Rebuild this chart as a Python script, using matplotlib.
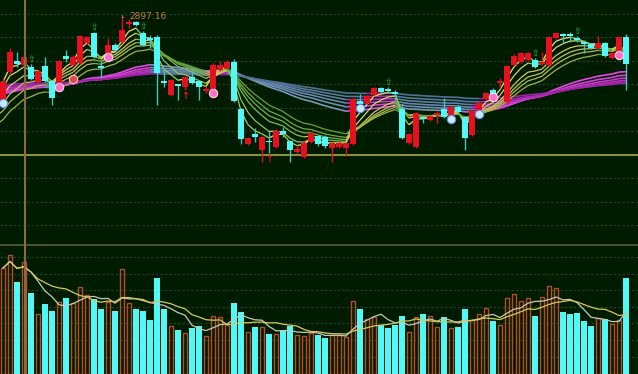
import numpy as np
import pandas as pd
import matplotlib
matplotlib.use("Agg")
import matplotlib.pyplot as plt
from matplotlib.collections import LineCollection

# daily candles (index points)
opens = [2812, 2840, 2851, 2847, 2845, 2830, 2846, 2831, 2827, 2856,
         2847, 2849, 2869, 2879, 2846, 2857, 2867, 2870, 2888, 2890,
         2879, 2874, 2875, 2831, 2817, 2828, 2825, 2835, 2831, 2821,
         2822, 2842, 2844, 2850, 2803, 2768, 2778, 2762, 2771, 2765,
         2781, 2771, 2760, 2755, 2770, 2776, 2775, 2764, 2765, 2764,
         2768, 2811, 2809, 2817, 2824, 2823, 2820, 2803, 2769, 2765,
         2795, 2792, 2797, 2803, 2795, 2805, 2795, 2777, 2800, 2813,
         2822, 2829, 2810, 2847, 2850, 2852, 2852, 2848, 2847, 2874,
         2878, 2878, 2874, 2870, 2868, 2864, 2869, 2854, 2859, 2875]
closes = [2830, 2860, 2848, 2855, 2833, 2841, 2831, 2814, 2851, 2853,
          2855, 2876, 2875, 2855, 2844, 2867, 2862, 2882, 2890, 2887,
          2867, 2872, 2839, 2829, 2832, 2826, 2835, 2829, 2825, 2823,
          2847, 2847, 2850, 2811, 2773, 2774, 2775, 2775, 2770, 2781,
          2778, 2762, 2763, 2769, 2779, 2768, 2766, 2769, 2769, 2769,
          2813, 2808, 2816, 2824, 2820, 2821, 2818, 2774, 2778, 2799,
          2793, 2796, 2799, 2795, 2805, 2800, 2774, 2801, 2809, 2819,
          2817, 2831, 2846, 2856, 2859, 2859, 2845, 2850, 2875, 2879,
          2876, 2876, 2872, 2868, 2864, 2869, 2856, 2859, 2875, 2848]
highs = [2834, 2864, 2860, 2857, 2848, 2842, 2855, 2832, 2852, 2862,
         2857, 2877, 2876, 2880, 2851, 2874, 2869, 2897.16, 2893, 2891,
         2881, 2877, 2877, 2844, 2833, 2828, 2836, 2842, 2832, 2826,
         2849, 2851, 2852, 2853, 2804, 2775, 2784, 2776, 2781, 2783,
         2785, 2772, 2767, 2772, 2780, 2777, 2777, 2770, 2770, 2770,
         2814, 2818, 2817, 2825, 2825, 2825, 2822, 2808, 2779, 2800,
         2796, 2797, 2801, 2814, 2806, 2807, 2796, 2802, 2810, 2820,
         2824, 2834, 2847, 2858, 2860, 2860, 2854, 2860, 2876, 2880,
         2879, 2880, 2876, 2872, 2869, 2876, 2870, 2860, 2876, 2878]
lows = [2810, 2838, 2845, 2845, 2832, 2829, 2830, 2807, 2826, 2850,
        2845, 2848, 2868, 2854, 2834, 2856, 2860, 2869, 2884, 2886,
        2866, 2864, 2807, 2825, 2816, 2812, 2822, 2828, 2812, 2819,
        2820, 2841, 2843, 2810, 2768, 2767, 2770, 2750, 2759, 2764,
        2775, 2750, 2758, 2754, 2769, 2766, 2764, 2750, 2764, 2756,
        2767, 2805, 2808, 2816, 2819, 2819, 2812, 2773, 2768, 2764,
        2789, 2791, 2789, 2794, 2794, 2799, 2762, 2776, 2799, 2812,
        2816, 2824, 2808, 2846, 2849, 2851, 2844, 2847, 2846, 2873,
        2869, 2870, 2870, 2859, 2863, 2863, 2855, 2853, 2858, 2822]
volumes = [106, 119, 92, 112, 81, 60, 70, 63, 72, 76,
           71, 87, 79, 75, 65, 72, 63, 105, 71, 65,
           63, 54, 96, 65, 48, 44, 41, 46, 48, 38,
           58, 57, 49, 71, 62, 42, 47, 47, 40, 40,
           43, 48, 39, 38, 41, 39, 36, 39, 39, 37,
           73, 65, 55, 57, 49, 46, 49, 58, 42, 57,
           60, 58, 47, 57, 46, 47, 65, 54, 60, 66,
           53, 49, 76, 80, 73, 76, 58, 77, 88, 86,
           62, 60, 61, 53, 48, 56, 55, 50, 54, 96]

# moving-average ribbons and their values just before the first candle
short_spans = [3, 5, 8, 10, 12, 15]
short_seeds = [2830, 2822, 2813, 2804, 2796, 2787]
long_spans = [38, 46, 55, 66, 80, 100]
long_seeds = [2817, 2819, 2821, 2823, 2825, 2827]

# signal icons
buy_arrows = [4, 13, 20, 55, 76, 82]
red_arrows = [26, 38]
pink_dots = [8, 15, 30, 70, 88]
blue_dots = [0, 51, 64, 68]
red_dots = [10]
peak_label = "2897.16"

BG = "#001c00"
RED = "#e8101c"
CYAN = "#50f8f8"

n = len(closes)
x = np.arange(n)
o = np.array(opens, float)
c = np.array(closes, float)
h = np.array(highs, float)
l = np.array(lows, float)
up = c >= o

fig = plt.figure(figsize=(6.38, 3.74), dpi=100, facecolor=BG)
ax = fig.add_axes([0, 130 / 374, 1, 244 / 374], facecolor=BG)
axv = fig.add_axes([0, 0, 1, 130 / 374], facecolor=BG)
for a in (ax, axv):
    a.set_xlim(-3 / 7, 635 / 7)
    for s in a.spines.values():
        s.set_visible(False)
    a.set_xticks([])
    a.set_yticks([])
ax.set_ylim(2668, 2912)
axv.set_ylim(0, 130)

# grid
for k in range(10):
    ax.axhline(2898 - 23.45 * k, color="#1d4a1d", lw=0.8, ls=(0, (2, 2)), zorder=0)
for k in range(7):
    axv.axhline(117 - 16.6 * k, color="#1d4a1d", lw=0.8, ls=(0, (2, 2)), zorder=0)
axv.axhline(129.5, color="#5c5c34", lw=1.2, zorder=1)


def ema(vals, span, seed):
    alpha = 2 / (span + 1)
    out = [seed]
    for v in vals:
        out.append(alpha * v + (1 - alpha) * out[-1])
    return np.array(out)


def colored_line(a, y, rise, fall, lw):
    xs = np.arange(-1, n)
    pts = np.column_stack([xs, y]).reshape(-1, 1, 2)
    segs = np.concatenate([pts[:-1], pts[1:]], axis=1)
    cols = [rise if y[i + 1] >= y[i] else fall for i in range(len(y) - 1)]
    a.add_collection(LineCollection(segs, colors=cols, linewidths=lw, zorder=2))


long_rise = ["#e848e8", "#d840d8", "#c838c8", "#b830c0", "#a828b0", "#9c22a4"]
long_fall = ["#7898c0", "#7090b8", "#6888b0", "#6080a8", "#5878a0", "#507098"]
short_rise = ["#e8e870", "#dcd474", "#d0c864", "#c4c05c", "#b4b854", "#a4b04c"]
short_fall = ["#a0cc60", "#90c458", "#84bc50", "#78b448", "#70ac44", "#68a43c"]

for span, seed, cr, cf in zip(long_spans, long_seeds, long_rise, long_fall):
    colored_line(ax, ema(c, span, seed), cr, cf, 1.2)
for span, seed, cr, cf in zip(short_spans, short_seeds, short_rise, short_fall):
    colored_line(ax, ema(c, span, seed), cr, cf, 0.9)

# candles
wick_cols = np.where(up, RED, "#48c0c0")
ax.vlines(x, l, h, colors=wick_cols, lw=1, zorder=3)
body_h = np.maximum(np.abs(c - o), 1.5)
ax.bar(x, body_h, bottom=np.minimum(o, c), width=0.72,
       color=np.where(up, RED, CYAN), edgecolor="none", zorder=4)

# signals
for i in buy_arrows:
    ax.annotate("\u21e7", (i, h[i]), xytext=(0, 0), textcoords="offset points",
                ha="center", va="bottom", color="#30c030", fontsize=6.5, zorder=6)
for i in red_arrows:
    ax.annotate("\u2191", (i, l[i]), xytext=(0, -1), textcoords="offset points",
                ha="center", va="top", color=RED, fontsize=7,
                fontweight="bold", zorder=6)
ax.scatter(pink_dots, l[pink_dots] - 1, s=36, c="#ff70c8", edgecolors="#ffd8f0",
           linewidths=0.8, zorder=7)
ax.scatter(blue_dots, l[blue_dots] - 1, s=36, c="#c8ecff", edgecolors="#5890f0",
           linewidths=0.8, zorder=7)
ax.scatter(red_dots, l[red_dots] - 12, s=36, c="#e04848", edgecolors="#ffc8c8",
           linewidths=0.8, zorder=7)

top = int(np.argmax(h))
ax.annotate(peak_label, (top, h[top]), xytext=(5, -1.5), textcoords="offset points",
            ha="left", va="center", color="#c87840", fontsize=6.5,
            arrowprops=dict(arrowstyle="-", color="#c87840", lw=0.7,
                            connectionstyle="angle,angleA=0,angleB=90"), zorder=6)

# crosshair / reference lines
ax.axhline(2757, color="#a8a844", lw=1.2, zorder=1)
ax.axvline(3.14, color="#8a6a40", lw=1.5, zorder=5)
axv.axvline(3.14, color="#8a6a40", lw=1.5, zorder=5)

# volume
vol = np.array(volumes, float)
axv.bar(x[~up], vol[~up], width=0.72, color=CYAN, edgecolor="none", zorder=3)
axv.bar(x[up], vol[up], width=0.62, facecolor="none", edgecolor="#b84a2c",
        lw=1, zorder=3)
vs = pd.Series(vol)
axv.plot(x, vs.rolling(5, min_periods=1).mean(), color="#c8c8b8", lw=0.9, zorder=4)
axv.plot(x, vs.rolling(10, min_periods=1).mean(), color="#d8c858", lw=0.9, zorder=4)

fig.savefig("out.png", dpi=100, facecolor=BG)
